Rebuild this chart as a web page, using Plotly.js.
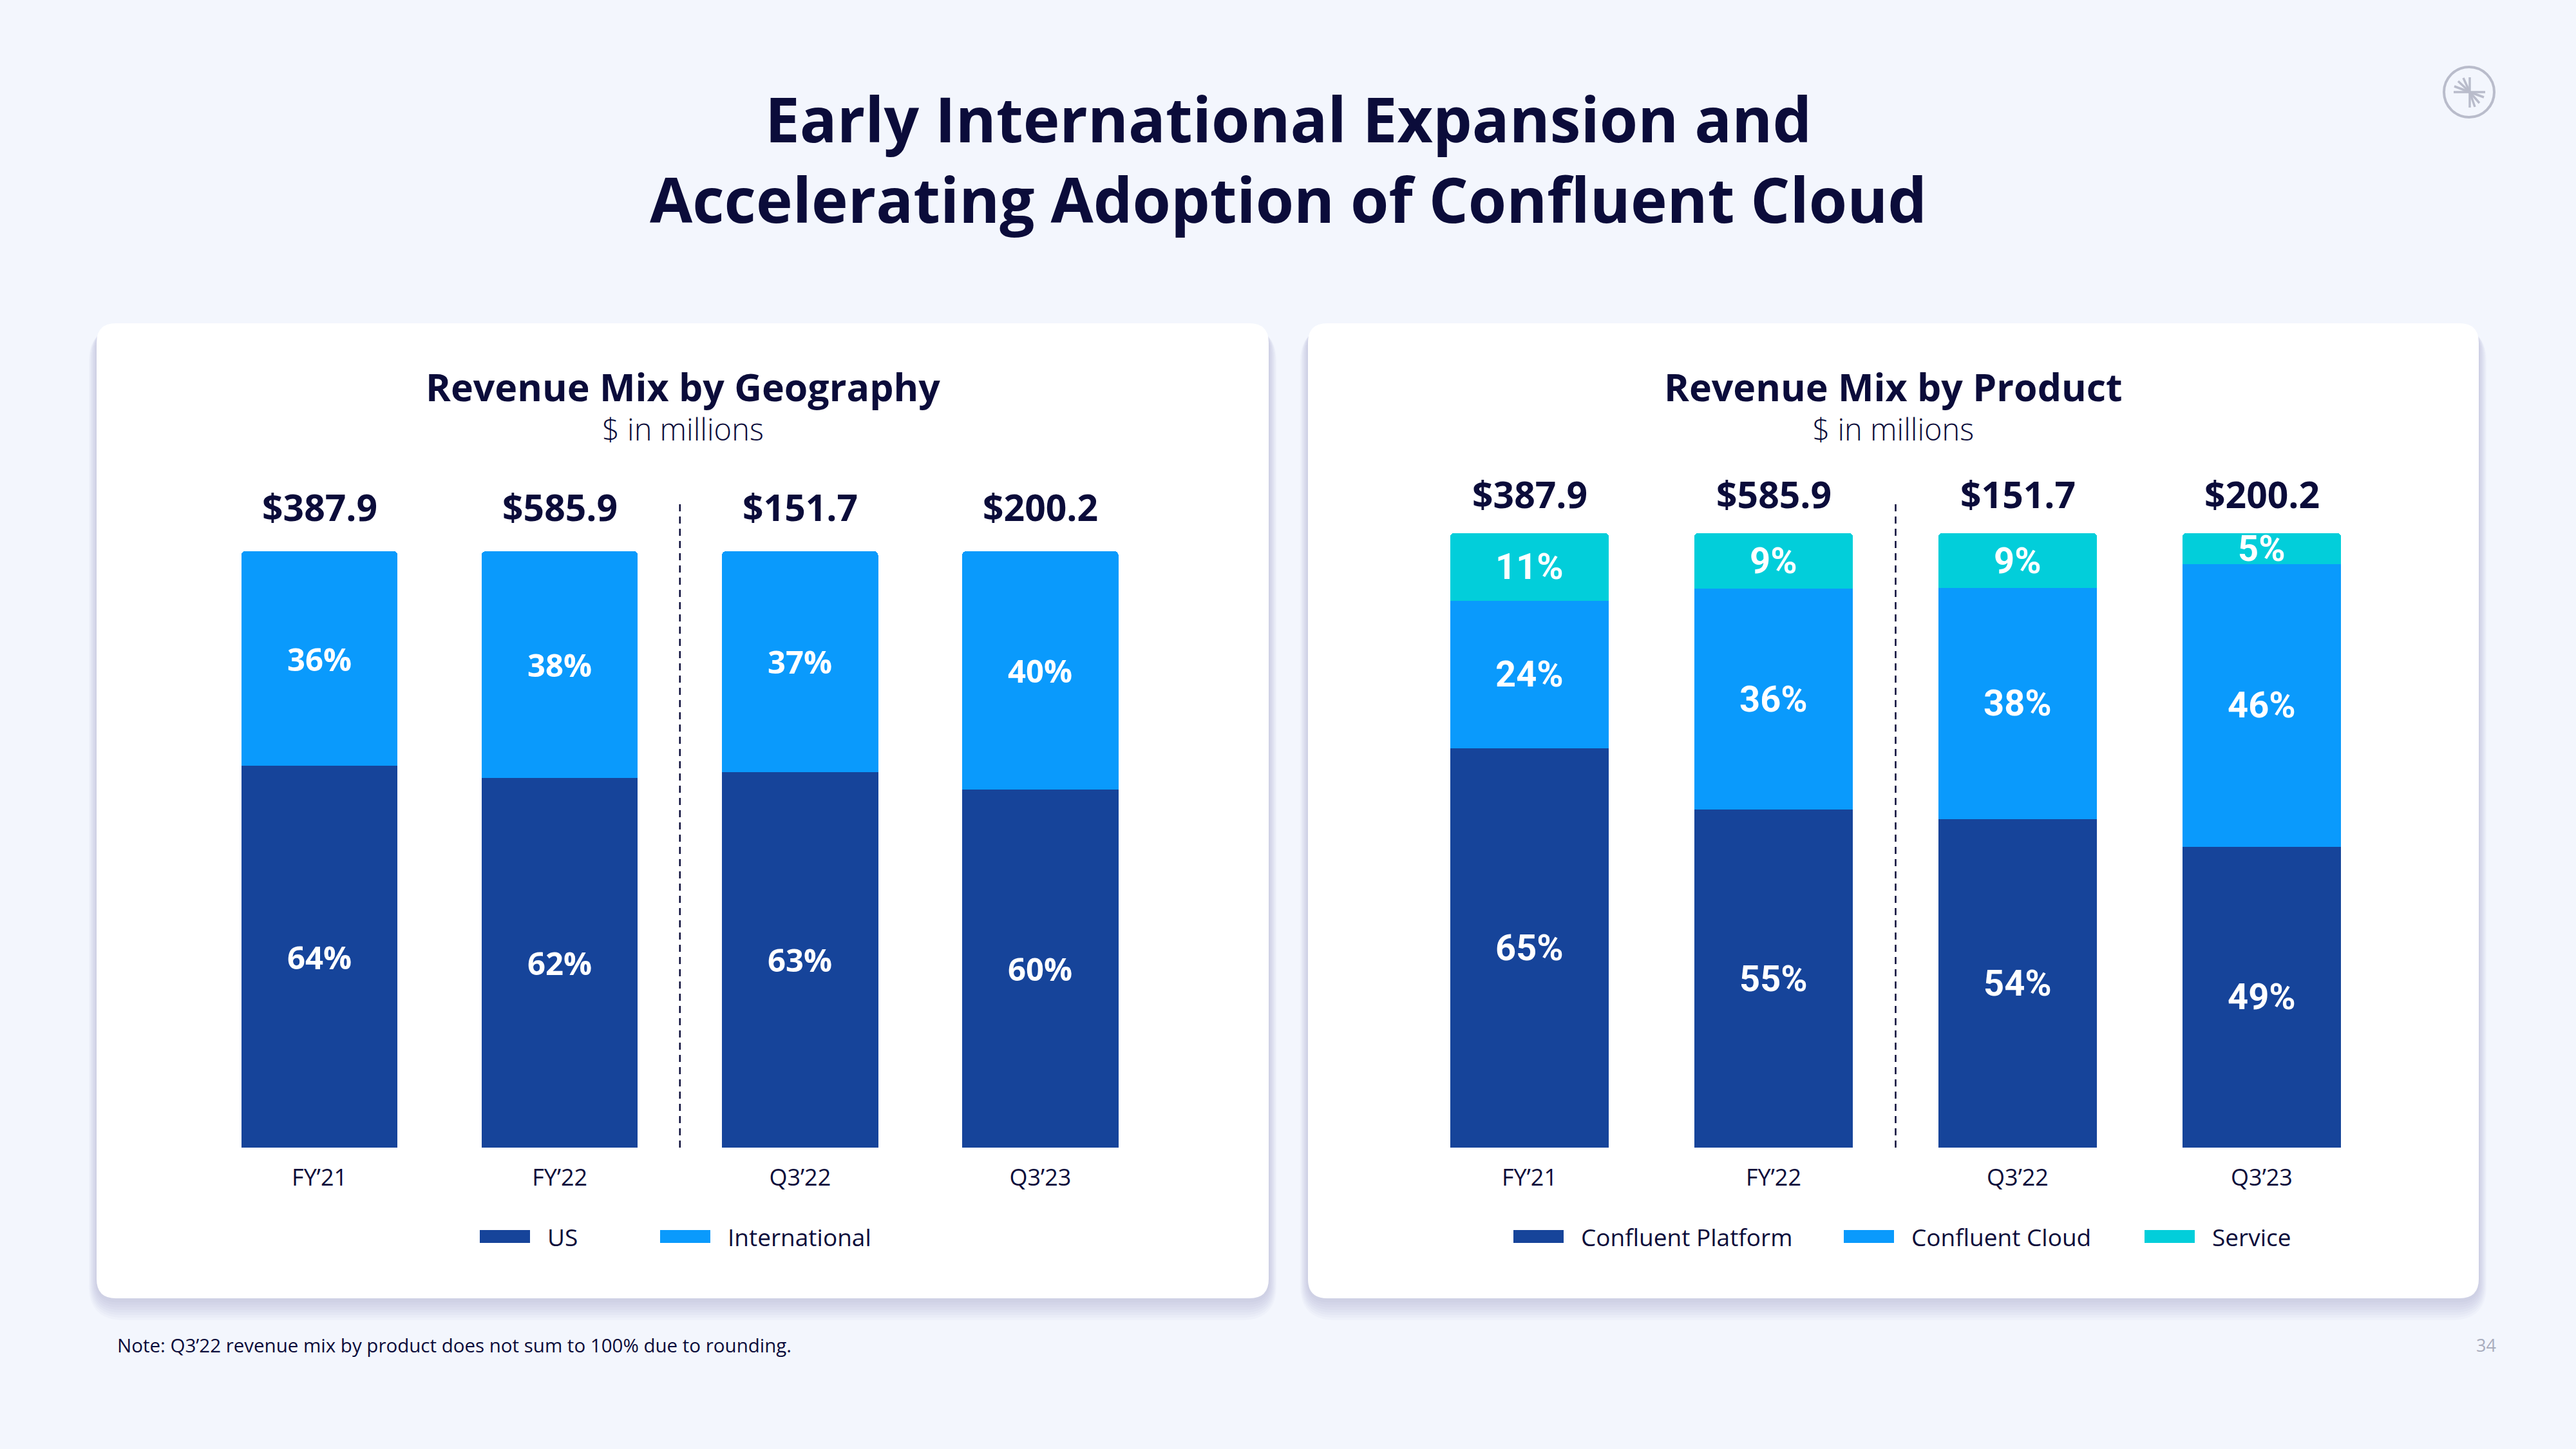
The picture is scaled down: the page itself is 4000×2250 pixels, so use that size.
<!DOCTYPE html>
<html>
<head>
<meta charset="utf-8">
<script src="https://cdn.plot.ly/plotly-3.0.1.min.js"></script>
<style>html,body{margin:0;padding:0;background:#F3F6FD;}#chart{width:4000px;height:2250px;}</style>
</head>
<body>
<div id="chart"></div>
<script>
// ---- data ----
const categories = ["FY’21", "FY’22", "Q3’22", "Q3’23"];
const totals = [387.9, 585.9, 151.7, 200.2];
const geoUS = [64, 62, 63, 60];
const geoIntl = [36, 38, 37, 40];
const prodPlatform = [65, 55, 54, 49];
const prodCloud = [24, 36, 38, 46];
const prodService = [11, 9, 9, 5];
const geoNames = ["US", "International"];
const prodNames = ["Confluent Platform", "Confluent Cloud", "Service"];
const mainTitleLines = ["Early International Expansion and", "Accelerating Adoption of Confluent Cloud"];
const geoTitle = "Revenue Mix by Geography";
const prodTitle = "Revenue Mix by Product";
const unitText = "$ in millions";
const noteText = "Note: Q3’22 revenue mix by product does not sum to 100% due to rounding.";
const pageNum = "34";

// ---- style ----
const W = 4000, H = 2250;
const NAVY = "#0B0C3A";
const C_DARK = "#16449A", C_BLUE = "#0A9AFC", C_CYAN = "#02CEDA";
const FONT = "Open Sans, sans-serif";
const px = x => x / W;
const py = y => 1 - y / H;

function barTrace(vals, name, color, xa, ya) {
  return {
    type: "bar", x: categories, y: vals, name: name, xaxis: xa, yaxis: ya,
    marker: {color: color, line: {width: 0}},
    hoverinfo: "skip", showlegend: false
  };
}

const geoSeries = [geoUS, geoIntl];
const prodSeries = [prodPlatform, prodCloud, prodService];
const data = [
  barTrace(geoUS, geoNames[0], C_DARK, "x", "y"),
  barTrace(geoIntl, geoNames[1], C_BLUE, "x", "y"),
  barTrace(prodPlatform, prodNames[0], C_DARK, "x2", "y2"),
  barTrace(prodCloud, prodNames[1], C_BLUE, "x2", "y2"),
  barTrace(prodService, prodNames[2], C_CYAN, "x2", "y2")
];

function roundRectPath(x0, y0, x1, y1, r) {
  const P = (x, y) => px(x).toFixed(6) + "," + py(y).toFixed(6);
  return "M" + P(x0 + r, y0) + " L" + P(x1 - r, y0) + " Q" + P(x1, y0) + " " + P(x1, y0 + r) +
    " L" + P(x1, y1 - r) + " Q" + P(x1, y1) + " " + P(x1 - r, y1) +
    " L" + P(x0 + r, y1) + " Q" + P(x0, y1) + " " + P(x0, y1 - r) +
    " L" + P(x0, y0 + r) + " Q" + P(x0, y0) + " " + P(x0 + r, y0) + " Z";
}

const shapes = [];
const panels = [[150, 502, 1970, 2016], [2031, 502, 3849, 2016]];
panels.forEach(p => {
  for (let i = 8; i >= 1; i--) {
    shapes.push({type: "path", xref: "paper", yref: "paper", layer: "below",
      path: roundRectPath(p[0] - i * 1.5, p[1] + 6, p[2] + i * 1.5, p[3] + i * 4 + 2, 30 + i * 3),
      fillcolor: "rgba(90,105,150,0.03)", line: {width: 0}});
  }
  shapes.push({type: "path", xref: "paper", yref: "paper", layer: "below",
    path: roundRectPath(p[0], p[1], p[2], p[3], 30), fillcolor: "#FFFFFF", line: {width: 0}});
});

// dashed separators between annual and quarterly bars
shapes.push({type: "line", xref: "x", yref: "paper", x0: 1.5, x1: 1.5, y0: py(1782), y1: py(777),
  line: {color: NAVY, width: 2.5, dash: "11px,8px"}});
shapes.push({type: "line", xref: "x2", yref: "paper", x0: 1.5, x1: 1.5, y0: py(1782), y1: py(777),
  line: {color: NAVY, width: 2.5, dash: "11px,8px"}});

// logo
const LG = "#B9BCCB";
shapes.push({type: "circle", xref: "paper", yref: "paper", x0: px(3795), x1: px(3873), y0: py(182), y1: py(104),
  line: {color: LG, width: 4}});
const logoLines = [[3835, 120, 3835, 167], [3810, 143, 3859, 143],
  [3835, 143, 3817, 126], [3835, 143, 3825, 121], [3835, 143, 3811, 134],
  [3835, 143, 3857, 151], [3835, 143, 3850, 160], [3835, 143, 3843, 166]];
logoLines.forEach(l => shapes.push({type: "line", xref: "paper", yref: "paper",
  x0: px(l[0]), y0: py(l[1]), x1: px(l[2]), y1: py(l[3]), line: {color: LG, width: 3.5}}));

const annotations = [];
function txt(x, y, text, size, opts) {
  annotations.push(Object.assign({xref: "paper", yref: "paper", x: px(x), y: py(y), text: text,
    showarrow: false, xanchor: "center", yanchor: "middle",
    font: {family: FONT, size: size, color: NAVY}}, opts || {}));
}
// main title (two lines, one text block)
txt(2000, 246, "<b>" + mainTitleLines.join("<br>") + "</b>", 96);

// panel titles with unit subtitle (one text block each)
function panelTitle(x, title) {
  txt(x, 629, "<span style='font-size:59px'><b>" + title + "</b></span><br>" +
    "<span style='font-weight:300'>" + unitText + "</span>", 47);
}
panelTitle(1060, geoTitle);
panelTitle(2940, prodTitle);

// totals above bars
categories.forEach((c, i) => {
  const t = "<b>$" + totals[i].toFixed(1) + "</b>";
  annotations.push({xref: "x", yref: "paper", x: c, y: py(787), text: t, showarrow: false,
    xanchor: "center", yanchor: "middle", font: {family: FONT, size: 57, color: NAVY}});
  annotations.push({xref: "x2", yref: "paper", x: c, y: py(767), text: t, showarrow: false,
    xanchor: "center", yanchor: "middle", font: {family: FONT, size: 57, color: NAVY}});
});

// segment percentage labels, centred in each (normalised) segment
function segLabels(series, xa, ya, fam, size) {
  categories.forEach((c, i) => {
    const sum = series.reduce((s, arr) => s + arr[i], 0);
    let cum = 0;
    series.forEach(arr => {
      const v = arr[i];
      const mid = (cum + v / 2) / sum * 100;
      cum += v;
      annotations.push({xref: xa, yref: ya, x: c, y: mid, text: "<b>" + v + "%</b>", showarrow: false,
        xanchor: "center", yanchor: "middle", font: {family: fam, size: size, color: "#FFFFFF"}});
    });
  });
}
segLabels(geoSeries, "x", "y", FONT, 49);
segLabels(prodSeries, "x2", "y2", "Roboto, sans-serif", 56);

// custom legends
function legendItem(x0, name, color) {
  shapes.push({type: "rect", xref: "paper", yref: "paper", x0: px(x0), x1: px(x0 + 78),
    y0: py(1930), y1: py(1910), fillcolor: color, line: {width: 0}});
  txt(x0 + 103, 1920, name, 37, {xanchor: "left"});
}
legendItem(745, geoNames[0], C_DARK);
legendItem(1025, geoNames[1], C_BLUE);
legendItem(2350, prodNames[0], C_DARK);
legendItem(2863, prodNames[1], C_BLUE);
legendItem(3330, prodNames[2], C_CYAN);

// footnote + page number
txt(180, 2088, noteText, 29.5, {xanchor: "left"});
txt(3860, 2088, pageNum, 27, {font: {family: FONT, size: 27, color: "#A9ADBD"}});

const xBase = {type: "category", range: [-0.5, 3.5], showgrid: false, zeroline: false, showline: false,
  ticks: "", ticklabelstandoff: 22, tickfont: {family: FONT, size: 36, color: NAVY}, fixedrange: true};
const yBase = {range: [0, 100], visible: false, showgrid: false, zeroline: false, fixedrange: true};

const layout = {
  width: W, height: H, margin: {l: 0, r: 0, t: 0, b: 0},
  paper_bgcolor: "#F3F6FD", plot_bgcolor: "rgba(0,0,0,0)",
  barmode: "stack", barnorm: "percent", bargap: 0.35, barcornerradius: 6,
  showlegend: false,
  font: {family: FONT, color: NAVY},
  xaxis: Object.assign({}, xBase, {domain: [px(309.5), px(1802)], anchor: "y"}),
  yaxis: Object.assign({}, yBase, {domain: [py(1782), py(856)], anchor: "x"}),
  xaxis2: Object.assign({}, xBase, {domain: [px(2185.5), px(3701.5)], anchor: "y2"}),
  yaxis2: Object.assign({}, yBase, {domain: [py(1782), py(828)], anchor: "x2"}),
  shapes: shapes, annotations: annotations
};

Plotly.newPlot("chart", data, layout, {displayModeBar: false, staticPlot: true});
</script>
</body>
</html>
